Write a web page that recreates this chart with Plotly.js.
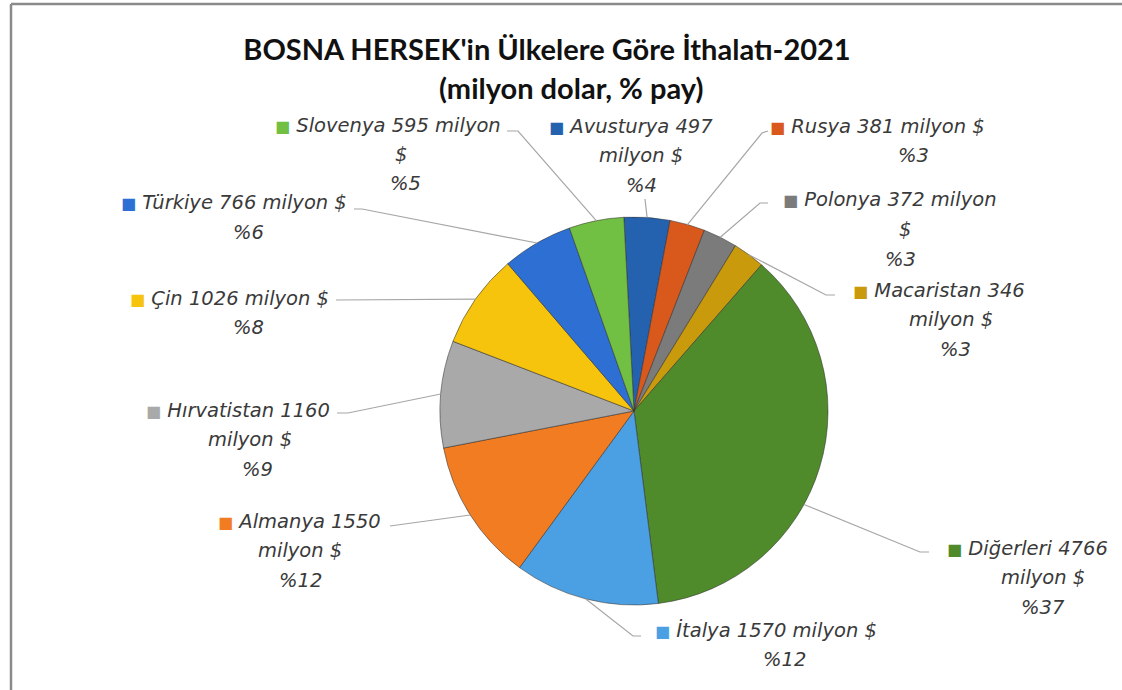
<!DOCTYPE html>
<html><head><meta charset="utf-8">
<script src="https://cdn.plot.ly/plotly-3.0.1.min.js"></script>
<style>html,body{margin:0;padding:0;background:#fff}#chart{width:1122px;height:690px}</style>
</head><body><div id="chart"></div>
<script>
// ---- data ----
const countries = ["Avusturya","Rusya","Polonya","Macaristan","Diğerleri","İtalya","Almanya","Hırvatistan","Çin","Türkiye","Slovenya"];
const values = [497,381,372,346,4766,1570,1550,1160,1026,766,595];
const colors = ["#2462b0","#d9591c","#7b7b7b","#c99a0c","#4f8a2b","#4ba0e3","#f27c22","#a9a9a9","#f6c40c","#2d6fd3","#72c043"];
const titleLine1 = "BOSNA HERSEK'in Ülkelere Göre İthalatı-2021";
const titleLine2 = "(milyon dolar, % pay)";

// ---- layout helpers (pixel geometry) ----
const W = 1122, H = 690;
const CX = 634, CY = 411, R = 194;
const ROT = -3;
const px = x => x / W;
const py = y => 1 - y / H;

// label placement: wrap mode, line centre xs, first line y, leader points (label side first), touch fraction
const labelLayout = {
  "Slovenya":   {wrap:"C", xs:[388,401,405], y:125, pts:[[507,131],[518,131]], f:0.5},
  "Avusturya":  {wrap:"B", xs:[631,641,641], y:126, pts:[[645,199]], f:0.5},
  "Rusya":      {wrap:"A", xs:[878,913],     y:126, pts:[[768,131],[762,133]], f:0.5},
  "Polonya":    {wrap:"C", xs:[890,905,900], y:200, pts:[[768,203],[760,203]], f:0.5},
  "Macaristan": {wrap:"B", xs:[939,951,955], y:290, pts:[[835,295],[826,295]], f:0.5},
  "Diğerleri":  {wrap:"B", xs:[1027,1043,1043], y:548, pts:[[929,552],[920,552]], f:0.59},
  "İtalya":     {wrap:"A", xs:[766,784],     y:630, pts:[[641,636],[633,636]], f:0.5},
  "Almanya":    {wrap:"B", xs:[299,300,300], y:521, pts:[[390,526]], f:0.5},
  "Hırvatistan":{wrap:"B", xs:[238,250,257], y:410, pts:[[337,413],[348,413]], f:0.5},
  "Çin":        {wrap:"A", xs:[229,248],     y:298, pts:[[336,300]], f:0.5},
  "Türkiye":    {wrap:"A", xs:[234,248],     y:203, pts:[[354,209],[362,209]], f:0.5}
};

const total = values.reduce((a,b)=>a+b,0);
const annotations = [];
const shapes = [];
const lineH = 29.5;
const labelFont = {family:"'DejaVu Sans', sans-serif", size:19.5, color:"#3a3a3a", style:"italic"};

let cum = 0;
countries.forEach((c,i)=>{
  const v = values[i];
  const pct = Math.round(v/total*100);
  const L = labelLayout[c];
  const sq = `<span style="color:${colors[i]};font-style:normal;font-size:16px">■</span> `;
  let lines;
  if (L.wrap === "A") lines = [`${sq}${c} ${v} milyon $`, `%${pct}`];
  else if (L.wrap === "B") lines = [`${sq}${c} ${v}`, `milyon $`, `%${pct}`];
  else lines = [`${sq}${c} ${v} milyon`, `$`, `%${pct}`];
  lines.forEach((t,k)=>{
    annotations.push({text:t, x:px(L.xs[k]), y:py(L.y + k*lineH), xref:"paper", yref:"paper",
      xanchor:"center", yanchor:"middle", showarrow:false, font:labelFont});
  });
  // leader line to the slice edge
  const ang = (ROT + (cum + v*L.f)/total*360) * Math.PI/180;
  const ex = CX + R*Math.sin(ang), ey = CY - R*Math.cos(ang);
  const pts = L.pts.concat([[ex,ey]]);
  let path = "M " + pts.map(p=>`${px(p[0])} ${py(p[1])}`).join(" L ");
  shapes.push({type:"path", path:path, xref:"paper", yref:"paper", line:{color:"#a6a6a6", width:1.2}});
  cum += v;
});

// title second line
annotations.push({text:titleLine2, x:px(571), y:py(88), xref:"paper", yref:"paper", xanchor:"center", yanchor:"middle",
  showarrow:false, font:{family:"Lato, sans-serif", size:29, color:"#111", weight:"bold"}});

// frame
shapes.push({type:"line", xref:"paper", yref:"paper", x0:px(11), y0:py(4), x1:px(1122), y1:py(4), line:{color:"#8a8a8a", width:2.5}});
shapes.push({type:"line", xref:"paper", yref:"paper", x0:px(11), y0:py(4), x1:px(11), y1:py(690), line:{color:"#8a8a8a", width:2.5}});

const trace = {
  type:"pie", values:values, labels:countries, sort:false, direction:"clockwise", rotation:ROT,
  marker:{colors:colors, line:{color:"rgba(50,50,50,0.55)", width:1}},
  textinfo:"none", hoverinfo:"label+value+percent", showlegend:false,
  domain:{x:[px(CX-R), px(CX+R)], y:[py(CY+R), py(CY-R)]}
};

const layout = {
  width:W, height:H, margin:{l:0,r:0,t:0,b:0}, paper_bgcolor:"#fff",
  title:{text:titleLine1, x:px(547), xanchor:"center", xref:"paper", y:py(50), yref:"paper", yanchor:"middle",
    font:{family:"Lato, sans-serif", size:29, color:"#111", weight:"bold"}},
  annotations:annotations, shapes:shapes, showlegend:false
};
Plotly.newPlot("chart", [trace], layout, {displayModeBar:false, staticPlot:true});
</script></body></html>
